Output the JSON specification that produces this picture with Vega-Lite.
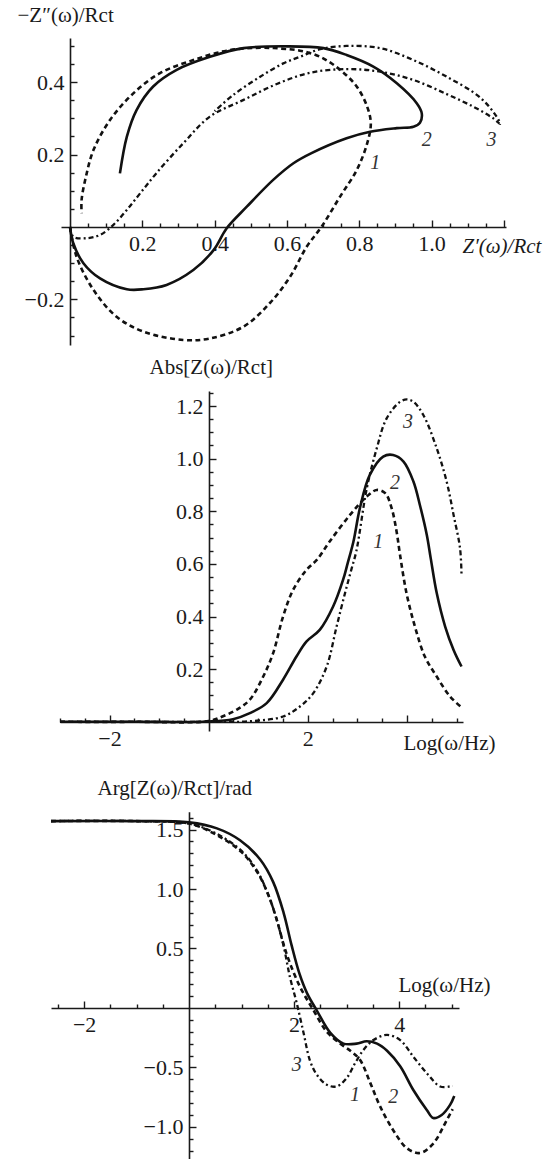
{
  "$schema": "https://vega.github.io/schema/vega-lite/v6.json",
  "width": 559,
  "height": 1159,
  "autosize": "none",
  "padding": 0,
  "background": "white",
  "config": {
    "view": {"stroke": null},
    "axis": {
      "grid": false,
      "domainColor": "#1a1a1a",
      "domainWidth": 1.6,
      "tickColor": "#1a1a1a",
      "tickWidth": 1.4,
      "labelFont": "Liberation Serif",
      "labelFontSize": 22,
      "labelColor": "#1a1a1a",
      "labelPadding": 13,
      "labelOverlap": false,
      "labelFlush": false,
      "titleFont": "Liberation Serif",
      "titleFontSize": 21,
      "titleFontWeight": "normal",
      "titleColor": "#1a1a1a",
      "titleAngle": 0,
      "titleAlign": "left",
      "titleBaseline": "middle"
    }
  },
  "datasets": {
    "nyq": [
      {"c":"1","i":0,"x":0,"y":0},{"c":"1","i":1,"x":0.018,"y":-0.082},{"c":"1","i":2,"x":0.065,"y":-0.174},{"c":"1","i":3,"x":0.129,"y":-0.248},{"c":"1","i":4,"x":0.203,"y":-0.289},{"c":"1","i":5,"x":0.313,"y":-0.312},{"c":"1","i":6,"x":0.387,"y":-0.308},{"c":"1","i":7,"x":0.48,"y":-0.275},{"c":"1","i":8,"x":0.553,"y":-0.21},{"c":"1","i":9,"x":0.609,"y":-0.137},{"c":"1","i":10,"x":0.655,"y":-0.054},{"c":"1","i":11,"x":0.696,"y":0.001},{"c":"1","i":12,"x":0.747,"y":0.084},{"c":"1","i":13,"x":0.793,"y":0.157},{"c":"1","i":14,"x":0.822,"y":0.231},{"c":"1","i":15,"x":0.832,"y":0.286},{"c":"1","i":16,"x":0.822,"y":0.332},{"c":"1","i":17,"x":0.793,"y":0.388},{"c":"1","i":18,"x":0.747,"y":0.434},{"c":"1","i":19,"x":0.692,"y":0.47},{"c":"1","i":20,"x":0.636,"y":0.487},{"c":"1","i":21,"x":0.581,"y":0.493},{"c":"1","i":22,"x":0.526,"y":0.495},{"c":"1","i":23,"x":0.433,"y":0.487},{"c":"1","i":24,"x":0.341,"y":0.461},{"c":"1","i":25,"x":0.249,"y":0.425},{"c":"1","i":26,"x":0.175,"y":0.369},{"c":"1","i":27,"x":0.111,"y":0.296},{"c":"1","i":28,"x":0.065,"y":0.213},{"c":"1","i":29,"x":0.044,"y":0.139},{"c":"1","i":30,"x":0.032,"y":0.075},{"c":"1","i":31,"x":0.032,"y":0.038},
      {"c":"2","i":0,"x":0,"y":0},{"c":"2","i":1,"x":0.009,"y":-0.045},{"c":"2","i":2,"x":0.037,"y":-0.1},{"c":"2","i":3,"x":0.083,"y":-0.142},{"c":"2","i":4,"x":0.157,"y":-0.172},{"c":"2","i":5,"x":0.203,"y":-0.172},{"c":"2","i":6,"x":0.267,"y":-0.16},{"c":"2","i":7,"x":0.341,"y":-0.119},{"c":"2","i":8,"x":0.397,"y":-0.064},{"c":"2","i":9,"x":0.433,"y":-0.004},{"c":"2","i":10,"x":0.489,"y":0.056},{"c":"2","i":11,"x":0.562,"y":0.13},{"c":"2","i":12,"x":0.618,"y":0.176},{"c":"2","i":13,"x":0.668,"y":0.204},{"c":"2","i":14,"x":0.765,"y":0.245},{"c":"2","i":15,"x":0.83,"y":0.263},{"c":"2","i":16,"x":0.904,"y":0.273},{"c":"2","i":17,"x":0.95,"y":0.277},{"c":"2","i":18,"x":0.968,"y":0.288},{"c":"2","i":19,"x":0.973,"y":0.314},{"c":"2","i":20,"x":0.959,"y":0.342},{"c":"2","i":21,"x":0.904,"y":0.397},{"c":"2","i":22,"x":0.839,"y":0.443},{"c":"2","i":23,"x":0.765,"y":0.475},{"c":"2","i":24,"x":0.701,"y":0.494},{"c":"2","i":25,"x":0.6,"y":0.499},{"c":"2","i":26,"x":0.48,"y":0.494},{"c":"2","i":27,"x":0.387,"y":0.47},{"c":"2","i":28,"x":0.295,"y":0.434},{"c":"2","i":29,"x":0.23,"y":0.388},{"c":"2","i":30,"x":0.184,"y":0.323},{"c":"2","i":31,"x":0.157,"y":0.249},{"c":"2","i":32,"x":0.138,"y":0.148},
      {"c":"3","i":0,"x":0,"y":0},{"c":"3","i":1,"x":0.009,"y":-0.027},{"c":"3","i":2,"x":0.046,"y":-0.031},{"c":"3","i":3,"x":0.083,"y":-0.022},{"c":"3","i":4,"x":0.12,"y":0.006},{"c":"3","i":5,"x":0.157,"y":0.047},{"c":"3","i":6,"x":0.194,"y":0.093},{"c":"3","i":7,"x":0.24,"y":0.15},{"c":"3","i":8,"x":0.313,"y":0.231},{"c":"3","i":9,"x":0.387,"y":0.305},{"c":"3","i":10,"x":0.48,"y":0.351},{"c":"3","i":11,"x":0.572,"y":0.395},{"c":"3","i":12,"x":0.664,"y":0.426},{"c":"3","i":13,"x":0.765,"y":0.436},{"c":"3","i":14,"x":0.858,"y":0.429},{"c":"3","i":15,"x":0.95,"y":0.406},{"c":"3","i":16,"x":1.042,"y":0.367},{"c":"3","i":17,"x":1.116,"y":0.332},{"c":"3","i":18,"x":1.171,"y":0.3},{"c":"3","i":19,"x":1.19,"y":0.285},{"c":"3","i":20,"x":1.18,"y":0.305},{"c":"3","i":21,"x":1.134,"y":0.358},{"c":"3","i":22,"x":1.042,"y":0.415},{"c":"3","i":23,"x":0.95,"y":0.461},{"c":"3","i":24,"x":0.858,"y":0.494},{"c":"3","i":25,"x":0.765,"y":0.5},{"c":"3","i":26,"x":0.692,"y":0.491},{"c":"3","i":27,"x":0.636,"y":0.47},{"c":"3","i":28,"x":0.59,"y":0.452},{"c":"3","i":29,"x":0.526,"y":0.415},{"c":"3","i":30,"x":0.452,"y":0.365},{"c":"3","i":31,"x":0.4,"y":0.32}
    ],
    "absz": [
      {"c":"1","x":-3,"y":0},{"c":"1","x":-1.5,"y":0},{"c":"1","x":0,"y":0.003},{"c":"1","x":0.3,"y":0.022},{"c":"1","x":0.6,"y":0.05},{"c":"1","x":0.83,"y":0.084},{"c":"1","x":1.1,"y":0.172},{"c":"1","x":1.3,"y":0.261},{"c":"1","x":1.5,"y":0.4},{"c":"1","x":1.7,"y":0.5},{"c":"1","x":1.97,"y":0.577},{"c":"1","x":2.18,"y":0.615},{"c":"1","x":2.44,"y":0.685},{"c":"1","x":2.85,"y":0.786},{"c":"1","x":3.19,"y":0.856},{"c":"1","x":3.39,"y":0.881},{"c":"1","x":3.56,"y":0.869},{"c":"1","x":3.69,"y":0.812},{"c":"1","x":3.79,"y":0.723},{"c":"1","x":3.86,"y":0.634},{"c":"1","x":3.99,"y":0.489},{"c":"1","x":4.16,"y":0.362},{"c":"1","x":4.36,"y":0.248},{"c":"1","x":4.6,"y":0.172},{"c":"1","x":4.87,"y":0.096},{"c":"1","x":5.12,"y":0.052},
      {"c":"2","x":-3,"y":0},{"c":"2","x":-1.5,"y":0},{"c":"2","x":0,"y":0.001},{"c":"2","x":0.49,"y":0.01},{"c":"2","x":0.83,"y":0.033},{"c":"2","x":1.17,"y":0.071},{"c":"2","x":1.5,"y":0.16},{"c":"2","x":1.77,"y":0.248},{"c":"2","x":1.97,"y":0.305},{"c":"2","x":2.24,"y":0.349},{"c":"2","x":2.51,"y":0.438},{"c":"2","x":2.71,"y":0.539},{"c":"2","x":2.8,"y":0.6},{"c":"2","x":2.92,"y":0.685},{"c":"2","x":3.05,"y":0.812},{"c":"2","x":3.25,"y":0.938},{"c":"2","x":3.52,"y":1.008},{"c":"2","x":3.72,"y":1.014},{"c":"2","x":3.93,"y":0.989},{"c":"2","x":4.13,"y":0.913},{"c":"2","x":4.26,"y":0.824},{"c":"2","x":4.4,"y":0.71},{"c":"2","x":4.48,"y":0.62},{"c":"2","x":4.6,"y":0.489},{"c":"2","x":4.77,"y":0.362},{"c":"2","x":4.94,"y":0.273},{"c":"2","x":5.1,"y":0.21},
      {"c":"3","x":-3,"y":0},{"c":"3","x":-1.5,"y":0},{"c":"3","x":0,"y":0},{"c":"3","x":0.83,"y":0.002},{"c":"3","x":1.5,"y":0.02},{"c":"3","x":1.84,"y":0.058},{"c":"3","x":2.11,"y":0.109},{"c":"3","x":2.38,"y":0.21},{"c":"3","x":2.58,"y":0.362},{"c":"3","x":2.75,"y":0.489},{"c":"3","x":2.88,"y":0.58},{"c":"3","x":2.98,"y":0.65},{"c":"3","x":3.19,"y":0.888},{"c":"3","x":3.39,"y":1.039},{"c":"3","x":3.59,"y":1.153},{"c":"3","x":3.86,"y":1.216},{"c":"3","x":4.0,"y":1.225},{"c":"3","x":4.13,"y":1.216},{"c":"3","x":4.33,"y":1.166},{"c":"3","x":4.6,"y":1.039},{"c":"3","x":4.8,"y":0.913},{"c":"3","x":4.94,"y":0.786},{"c":"3","x":5.07,"y":0.66},{"c":"3","x":5.1,"y":0.56}
    ],
    "argz": [
      {"c":"1","x":-2.63,"y":1.571},{"c":"1","x":-1,"y":1.571},{"c":"1","x":0,"y":1.55},{"c":"1","x":0.5,"y":1.46},{"c":"1","x":1,"y":1.31},{"c":"1","x":1.3,"y":1.14},{"c":"1","x":1.5,"y":0.96},{"c":"1","x":1.65,"y":0.77},{"c":"1","x":1.86,"y":0.45},{"c":"1","x":2.11,"y":0.18},{"c":"1","x":2.37,"y":-0.02},{"c":"1","x":2.62,"y":-0.2},{"c":"1","x":2.88,"y":-0.3},{"c":"1","x":3.1,"y":-0.37},{"c":"1","x":3.26,"y":-0.44},{"c":"1","x":3.45,"y":-0.63},{"c":"1","x":3.64,"y":-0.83},{"c":"1","x":3.89,"y":-1.03},{"c":"1","x":4.15,"y":-1.18},{"c":"1","x":4.4,"y":-1.22},{"c":"1","x":4.65,"y":-1.14},{"c":"1","x":4.91,"y":-0.94},{"c":"1","x":5.02,"y":-0.85},
      {"c":"2","x":-2.63,"y":1.571},{"c":"2","x":-1,"y":1.571},{"c":"2","x":0,"y":1.56},{"c":"2","x":0.53,"y":1.51},{"c":"2","x":0.97,"y":1.41},{"c":"2","x":1.35,"y":1.25},{"c":"2","x":1.6,"y":1.06},{"c":"2","x":1.8,"y":0.8},{"c":"2","x":1.95,"y":0.53},{"c":"2","x":2.1,"y":0.29},{"c":"2","x":2.25,"y":0.12},{"c":"2","x":2.43,"y":-0.02},{"c":"2","x":2.69,"y":-0.21},{"c":"2","x":2.94,"y":-0.3},{"c":"2","x":3.19,"y":-0.3},{"c":"2","x":3.38,"y":-0.28},{"c":"2","x":3.58,"y":-0.3},{"c":"2","x":3.77,"y":-0.36},{"c":"2","x":4.02,"y":-0.49},{"c":"2","x":4.27,"y":-0.69},{"c":"2","x":4.53,"y":-0.86},{"c":"2","x":4.65,"y":-0.925},{"c":"2","x":4.81,"y":-0.9},{"c":"2","x":4.97,"y":-0.815},{"c":"2","x":5.05,"y":-0.74},
      {"c":"3","x":-2.63,"y":1.571},{"c":"3","x":-1,"y":1.571},{"c":"3","x":0,"y":1.55},{"c":"3","x":0.5,"y":1.47},{"c":"3","x":1,"y":1.32},{"c":"3","x":1.3,"y":1.15},{"c":"3","x":1.5,"y":0.96},{"c":"3","x":1.65,"y":0.77},{"c":"3","x":1.8,"y":0.52},{"c":"3","x":1.92,"y":0.26},{"c":"3","x":2.05,"y":0.04},{"c":"3","x":2.18,"y":-0.21},{"c":"3","x":2.3,"y":-0.44},{"c":"3","x":2.43,"y":-0.56},{"c":"3","x":2.62,"y":-0.645},{"c":"3","x":2.81,"y":-0.66},{"c":"3","x":3,"y":-0.59},{"c":"3","x":3.16,"y":-0.465},{"c":"3","x":3.32,"y":-0.353},{"c":"3","x":3.51,"y":-0.27},{"c":"3","x":3.77,"y":-0.227},{"c":"3","x":4.02,"y":-0.27},{"c":"3","x":4.27,"y":-0.41},{"c":"3","x":4.53,"y":-0.55},{"c":"3","x":4.78,"y":-0.66},{"c":"3","x":4.97,"y":-0.66},{"c":"3","x":5.02,"y":-0.655}
    ],
    "lab1": [{"t":"1","x":0.844,"y":0.176},{"t":"2","x":0.987,"y":0.24},{"t":"3","x":1.166,"y":0.24}],
    "lab2": [{"t":"1","x":3.42,"y":0.684},{"t":"2","x":3.76,"y":0.908},{"t":"3","x":4.02,"y":1.14}],
    "lab3": [{"t":"3","x":2.05,"y":-0.48},{"t":"1","x":3.16,"y":-0.73},{"t":"2","x":3.89,"y":-0.745}]
  },
  "resolve": {"scale": {"x": "independent", "y": "independent"}, "axis": {"x": "independent", "y": "independent"}},
  "layer": [
    {
      "encoding": {
        "x": {"field": "x", "type": "quantitative",
          "scale": {"domain": [-0.025, 1.206], "range": [61, 506], "zero": false, "nice": false},
          "axis": {"orient": "bottom", "offset": -932,
            "values": [0.05,0.1,0.15,0.2,0.25,0.3,0.35,0.4,0.45,0.5,0.55,0.6,0.65,0.7,0.75,0.8,0.85,0.9,0.95,1,1.05,1.1,1.15,1.2],
            "tickSize": {"expr": "indexof([0.2,0.4,0.6,0.8,1,1.2], datum.value) >= 0 ? -7 : -4"},
            "labelExpr": "indexof([0.2,0.4,0.6,0.8,1], datum.value) >= 0 ? format(datum.value, '.1f') : ''",
            "title": "Z′(ω)/Rct", "titleX": 462, "titleY": 19, "titleFontStyle": "italic"}},
        "y": {"field": "y", "type": "quantitative",
          "scale": {"domain": [-0.326, 0.522], "range": [345, 38], "zero": false, "nice": false},
          "axis": {"orient": "left", "offset": -70,
            "values": [-0.3,-0.25,-0.2,-0.15,-0.1,-0.05,0.05,0.1,0.15,0.2,0.25,0.3,0.35,0.4,0.45,0.5],
            "tickSize": {"expr": "indexof([-0.2,0.2,0.4], datum.value) >= 0 ? -7 : -4"},
            "labelExpr": "indexof([-0.2,0.2,0.4], datum.value) >= 0 ? format(datum.value, '.1f') : ''",
            "title": "−Z″(ω)/Rct", "titleX": -53, "titleY": 15}}
      },
      "layer": [
        {"data": {"name": "nyq"}, "transform": [{"filter": "datum.c == '1'"}],
         "mark": {"type": "line", "interpolate": "catmull-rom", "color": "#111", "strokeWidth": 2.6, "strokeDash": [5, 3.5]},
         "encoding": {"order": {"field": "i", "type": "quantitative"}}},
        {"data": {"name": "nyq"}, "transform": [{"filter": "datum.c == '2'"}],
         "mark": {"type": "line", "interpolate": "catmull-rom", "color": "#111", "strokeWidth": 2.6},
         "encoding": {"order": {"field": "i", "type": "quantitative"}}},
        {"data": {"name": "nyq"}, "transform": [{"filter": "datum.c == '3'"}],
         "mark": {"type": "line", "interpolate": "catmull-rom", "color": "#111", "strokeWidth": 2.3, "strokeDash": [5, 3, 2, 3]},
         "encoding": {"order": {"field": "i", "type": "quantitative"}}},
        {"data": {"name": "lab1"},
         "mark": {"type": "text", "font": "Liberation Serif", "fontStyle": "italic", "fontSize": 20, "color": "#333"},
         "encoding": {"text": {"field": "t"}}}
      ]
    },
    {
      "encoding": {
        "x": {"field": "x", "type": "quantitative",
          "scale": {"domain": [-3, 5.13], "range": [60, 463], "zero": false, "nice": false},
          "axis": {"orient": "bottom", "offset": -437,
            "values": [-3,-2.5,-2,-1.5,-1,-0.5,0.5,1,1.5,2,2.5,3,3.5,4,4.5,5],
            "tickSize": {"expr": "indexof([-2,2,4], datum.value) >= 0 ? -7 : -4"},
            "labelExpr": "indexof([-2,2], datum.value) >= 0 ? format(datum.value, 'd') : ''",
            "title": "Log(ω/Hz)", "titleX": 403, "titleY": 21}},
        "y": {"field": "y", "type": "quantitative",
          "scale": {"domain": [-0.035, 1.257], "range": [731, 391], "zero": false, "nice": false},
          "axis": {"orient": "left", "offset": -209,
            "values": [0.05,0.1,0.15,0.2,0.25,0.3,0.35,0.4,0.45,0.5,0.55,0.6,0.65,0.7,0.75,0.8,0.85,0.9,0.95,1,1.05,1.1,1.15,1.2,1.25],
            "tickSize": {"expr": "indexof([0.2,0.4,0.6,0.8,1,1.2], datum.value) >= 0 ? -7 : -4"},
            "labelExpr": "indexof([0.2,0.4,0.6,0.8,1,1.2], datum.value) >= 0 ? format(datum.value, '.1f') : ''",
            "title": "Abs[Z(ω)/Rct]", "titleX": -60, "titleY": 367}}
      },
      "layer": [
        {"data": {"name": "absz"}, "transform": [{"filter": "datum.c == '1'"}],
         "mark": {"type": "line", "interpolate": "catmull-rom", "color": "#111", "strokeWidth": 2.6, "strokeDash": [5, 3.5]}},
        {"data": {"name": "absz"}, "transform": [{"filter": "datum.c == '2'"}],
         "mark": {"type": "line", "interpolate": "catmull-rom", "color": "#111", "strokeWidth": 2.6}},
        {"data": {"name": "absz"}, "transform": [{"filter": "datum.c == '3'"}],
         "mark": {"type": "line", "interpolate": "catmull-rom", "color": "#111", "strokeWidth": 2.3, "strokeDash": [5, 3, 2, 3]}},
        {"data": {"name": "lab2"},
         "mark": {"type": "text", "font": "Liberation Serif", "fontStyle": "italic", "fontSize": 20, "color": "#333"},
         "encoding": {"text": {"field": "t"}}}
      ]
    },
    {
      "encoding": {
        "x": {"field": "x", "type": "quantitative",
          "scale": {"domain": [-2.63, 5.14], "range": [51, 459], "zero": false, "nice": false},
          "axis": {"orient": "bottom", "offset": -151,
            "values": [-2.5,-2,-1.5,-1,-0.5,0.5,1,1.5,2,2.5,3,3.5,4,4.5,5],
            "tickSize": {"expr": "indexof([-2,2,4], datum.value) >= 0 ? -7 : -4"},
            "labelExpr": "indexof([-2,2,4], datum.value) >= 0 ? format(datum.value, 'd') : ''",
            "title": "Log(ω/Hz)", "titleX": 398, "titleY": -23}},
        "y": {"field": "y", "type": "quantitative",
          "scale": {"domain": [-1.27, 1.65], "range": [1159, 811.7], "zero": false, "nice": false},
          "axis": {"orient": "left", "offset": -189,
            "values": [-1.2,-1.1,-1,-0.9,-0.8,-0.7,-0.6,-0.5,-0.4,-0.3,-0.2,-0.1,0.1,0.2,0.3,0.4,0.5,0.6,0.7,0.8,0.9,1,1.1,1.2,1.3,1.4,1.5,1.6],
            "tickSize": {"expr": "indexof([-1,-0.5,0.5,1,1.5], datum.value) >= 0 ? -7 : -4"},
            "labelExpr": "indexof([-1,-0.5,0.5,1,1.5], datum.value) >= 0 ? format(datum.value, '.1f') : ''",
            "title": "Arg[Z(ω)/Rct]/rad", "titleX": -92, "titleY": 788}}
      },
      "layer": [
        {"data": {"name": "argz"}, "transform": [{"filter": "datum.c == '1'"}],
         "mark": {"type": "line", "interpolate": "catmull-rom", "color": "#111", "strokeWidth": 2.6, "strokeDash": [5, 3.5]}},
        {"data": {"name": "argz"}, "transform": [{"filter": "datum.c == '2'"}],
         "mark": {"type": "line", "interpolate": "catmull-rom", "color": "#111", "strokeWidth": 2.6}},
        {"data": {"name": "argz"}, "transform": [{"filter": "datum.c == '3'"}],
         "mark": {"type": "line", "interpolate": "catmull-rom", "color": "#111", "strokeWidth": 2.3, "strokeDash": [5, 3, 2, 3]}},
        {"data": {"name": "lab3"},
         "mark": {"type": "text", "font": "Liberation Serif", "fontStyle": "italic", "fontSize": 20, "color": "#333"},
         "encoding": {"text": {"field": "t"}}}
      ]
    }
  ]
}
